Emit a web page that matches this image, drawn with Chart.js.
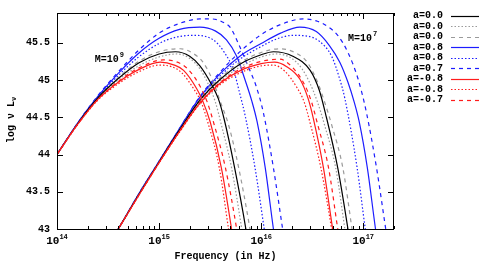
<!DOCTYPE html>
<html>
<head>
<meta charset="utf-8">
<script src="https://cdn.jsdelivr.net/npm/chart.js@4.4.1/dist/chart.umd.min.js"></script>
<style>
  html, body { margin: 0; padding: 0; background: #fff; }
  canvas { display: block; }
</style>
</head>
<body>
<canvas id="grafico" width="491" height="263"></canvas>
<script>
// pontos: [log10 frequencia (Hz), log10 nu L_nu]
const legendLabels = ['a=0.0', 'a=0.0', 'a=0.0', 'a=0.8', 'a=0.8', 'a=0.7', 'a=-0.8', 'a=-0.8', 'a=-0.7'];
const yTicks = [43, 43.5, 44, 44.5, 45, 45.5];
const xDecades = [14, 15, 16, 17];
const xMinor = [2, 3, 4, 5, 6, 7, 8, 9];

// M = 10^9
const m9_a00 = [[14.0,44.00],[14.2,44.41],[14.4,44.76],[14.6,45.02],[14.8,45.23],[15.0,45.35],[15.16,45.38],[15.3,45.32],[15.4,45.19],[15.51,44.95],[15.58,44.75],[15.64,44.46],[15.74,43.82],[15.85,43.00],[15.9,42.55]];
const m9_a00_dot = [[14.0,44.00],[14.2,44.40],[14.4,44.75],[14.6,45.00],[14.8,45.19],[15.0,45.31],[15.18,45.35],[15.3,45.29],[15.4,45.15],[15.48,44.95],[15.55,44.71],[15.61,44.40],[15.71,43.82],[15.81,43.00],[15.86,42.55]];
const m9_a00_dash = [[14.0,44.00],[14.2,44.41],[14.4,44.76],[14.6,45.03],[14.8,45.25],[15.0,45.38],[15.21,45.42],[15.33,45.36],[15.43,45.24],[15.53,44.98],[15.6,44.71],[15.68,44.40],[15.78,43.82],[15.89,43.00],[15.94,42.55]];
const m9_a08 = [[14.0,44.00],[14.2,44.42],[14.4,44.78],[14.6,45.09],[14.8,45.36],[15.0,45.56],[15.2,45.68],[15.4,45.71],[15.55,45.66],[15.66,45.54],[15.76,45.32],[15.84,45.01],[15.91,44.71],[15.96,44.44],[16.04,43.82],[16.12,43.00],[16.17,42.55]];
const m9_a08_dot = [[14.0,44.00],[14.2,44.41],[14.4,44.77],[14.6,45.06],[14.8,45.31],[15.0,45.49],[15.15,45.57],[15.33,45.60],[15.53,45.54],[15.64,45.37],[15.73,45.13],[15.79,44.82],[15.84,44.54],[15.94,43.82],[16.03,43.00],[16.08,42.55]];
const m9_a07_dash = [[14.0,44.00],[14.2,44.42],[14.4,44.79],[14.6,45.11],[14.8,45.40],[15.0,45.63],[15.2,45.76],[15.4,45.82],[15.52,45.82],[15.62,45.78],[15.7,45.70],[15.78,45.48],[15.86,45.22],[15.95,44.92],[16.02,44.57],[16.12,43.82],[16.21,43.00],[16.26,42.55]];
const m9_am08 = [[14.0,44.00],[14.2,44.40],[14.4,44.74],[14.6,44.97],[14.8,45.14],[15.01,45.24],[15.15,45.20],[15.24,45.13],[15.37,44.88],[15.43,44.71],[15.5,44.44],[15.61,43.82],[15.71,43.00],[15.76,42.55]];
const m9_am08_dot = [[14.0,44.00],[14.2,44.40],[14.4,44.73],[14.6,44.95],[14.8,45.11],[15.0,45.20],[15.12,45.18],[15.22,45.10],[15.34,44.88],[15.41,44.71],[15.48,44.42],[15.59,43.82],[15.68,43.00],[15.73,42.55]];
const m9_am07_dash = [[14.0,44.00],[14.2,44.40],[14.4,44.74],[14.6,44.98],[14.8,45.16],[15.04,45.27],[15.18,45.24],[15.28,45.15],[15.4,44.92],[15.47,44.71],[15.54,44.40],[15.65,43.82],[15.76,43.00],[15.81,42.55]];

// M = 10^7
const m7_a00 = [[14.5,42.78],[14.6,43.00],[14.8,43.46],[15.0,43.90],[15.2,44.33],[15.4,44.73],[15.6,45.01],[15.8,45.22],[16.0,45.34],[16.12,45.38],[16.31,45.32],[16.48,45.13],[16.57,44.86],[16.63,44.55],[16.75,43.82],[16.85,43.00],[16.9,42.55]];
const m7_a00_dot = [[14.5,42.78],[14.6,43.00],[14.8,43.46],[15.0,43.90],[15.2,44.32],[15.4,44.72],[15.6,44.99],[15.8,45.18],[16.0,45.31],[16.15,45.35],[16.3,45.29],[16.4,45.15],[16.48,44.95],[16.55,44.71],[16.62,44.40],[16.73,43.82],[16.82,43.00],[16.87,42.55]];
const m7_a00_dash = [[14.5,42.78],[14.6,43.00],[14.8,43.46],[15.0,43.90],[15.2,44.33],[15.4,44.74],[15.6,45.03],[15.8,45.24],[16.0,45.37],[16.18,45.42],[16.33,45.37],[16.45,45.24],[16.55,44.98],[16.62,44.71],[16.69,44.40],[16.8,43.82],[16.89,43.00],[16.94,42.55]];
const m7_a08 = [[14.5,42.78],[14.6,43.00],[14.8,43.47],[15.0,43.91],[15.2,44.35],[15.4,44.77],[15.6,45.09],[15.8,45.33],[16.0,45.49],[16.19,45.63],[16.38,45.71],[16.54,45.65],[16.67,45.46],[16.77,45.24],[16.85,44.97],[16.91,44.71],[16.96,44.44],[17.04,43.82],[17.12,43.00],[17.17,42.55]];
const m7_a08_dot = [[14.5,42.78],[14.6,43.00],[14.8,43.47],[15.0,43.91],[15.2,44.34],[15.4,44.76],[15.6,45.06],[15.8,45.29],[16.0,45.45],[16.15,45.55],[16.31,45.60],[16.45,45.59],[16.57,45.52],[16.69,45.32],[16.77,45.01],[16.82,44.75],[16.94,43.82],[17.02,43.00],[17.07,42.55]];
const m7_a07_dash = [[14.5,42.78],[14.6,43.00],[14.8,43.47],[15.0,43.91],[15.2,44.35],[15.4,44.78],[15.6,45.11],[15.8,45.39],[16.0,45.61],[16.2,45.75],[16.41,45.82],[16.55,45.79],[16.66,45.71],[16.75,45.60],[16.85,45.37],[16.95,45.01],[17.03,44.57],[17.13,43.82],[17.22,43.00],[17.27,42.55]];
const m7_am08 = [[14.5,42.78],[14.6,43.00],[14.8,43.45],[15.0,43.89],[15.2,44.31],[15.4,44.69],[15.6,44.96],[15.8,45.13],[16.0,45.22],[16.13,45.24],[16.25,45.18],[16.38,45.01],[16.46,44.75],[16.51,44.49],[16.61,43.82],[16.7,43.00],[16.75,42.55]];
const m7_am08_dot = [[14.5,42.78],[14.6,43.00],[14.8,43.45],[15.0,43.89],[15.2,44.30],[15.4,44.68],[15.6,44.94],[15.8,45.10],[16.0,45.19],[16.12,45.20],[16.23,45.12],[16.35,44.90],[16.42,44.71],[16.48,44.42],[16.585,43.82],[16.69,43.00],[16.74,42.55]];
const m7_am07_dash = [[14.5,42.78],[14.6,43.00],[14.8,43.45],[15.0,43.89],[15.2,44.31],[15.4,44.70],[15.6,44.97],[15.8,45.15],[16.0,45.25],[16.18,45.28],[16.3,45.18],[16.42,44.95],[16.49,44.72],[16.55,44.42],[16.66,43.82],[16.75,43.00],[16.8,42.55]];

// rotulos das massas: [log nu, log L, expoente]
const massLabels = [[14.37, 45.24, '9'], [16.85, 45.53, '7']];

const grupos = [
  [m9_a00, m9_a00_dot, m9_a00_dash, m9_a08, m9_a08_dot, m9_a07_dash, m9_am08, m9_am08_dot, m9_am07_dash],
  [m7_a00, m7_a00_dot, m7_a00_dash, m7_a08, m7_a08_dot, m7_a07_dash, m7_am08, m7_am08_dot, m7_am07_dash]
];

const PONTO = [1.5, 2];
const TRACO = [4, 4];
const estilos = [
  { cor: '#000000', dash: [], ordem: 1 },
  { cor: '#9a9a9a', dash: PONTO, ordem: 1 },
  { cor: '#9a9a9a', dash: TRACO, ordem: 1 },
  { cor: '#1c1cff', dash: [], ordem: 2 },
  { cor: '#1c1cff', dash: PONTO, ordem: 2 },
  { cor: '#1c1cff', dash: TRACO, ordem: 2 },
  { cor: '#ff1c1c', dash: [], ordem: 0 },
  { cor: '#ff1c1c', dash: PONTO, ordem: 0 },
  { cor: '#ff1c1c', dash: TRACO, ordem: 0 }
];

const datasets = [];
grupos.forEach(curvas => {
  curvas.forEach((pts, i) => {
    datasets.push({
      label: legendLabels[i],
      data: pts.map(p => ({ x: Math.pow(10, p[0]), y: p[1] })),
      borderColor: estilos[i].cor,
      borderDash: estilos[i].dash,
      borderWidth: 1.2,
      pointRadius: 0,
      showLine: true,
      fill: false,
      cubicInterpolationMode: 'monotone',
      order: estilos[i].ordem
    });
  });
});

const FONTE = 'Liberation Mono, DejaVu Sans Mono, monospace';

const decoracao = {
  id: 'decoracao',
  afterDraw(chart) {
    const { ctx, chartArea: a, scales: { x, y } } = chart;
    ctx.save();
    ctx.strokeStyle = '#000';
    ctx.fillStyle = '#000';
    ctx.lineWidth = 1;
    ctx.setLineDash([]);

    // moldura
    ctx.strokeRect(a.left + 0.5, a.top + 0.5, a.right - a.left - 1, a.bottom - a.top);

    // ticks x (para dentro, em cima e embaixo)
    ctx.beginPath();
    xDecades.forEach(d => {
      [1].concat(xMinor).forEach(m => {
        const v = m * Math.pow(10, d);
        if (v > x.max) return;
        const px = Math.round(x.getPixelForValue(v)) + 0.5;
        const len = m === 1 ? 6 : 3;
        ctx.moveTo(px, a.bottom); ctx.lineTo(px, a.bottom - len);
        ctx.moveTo(px, a.top); ctx.lineTo(px, a.top + len);
      });
    });
    // ticks y
    yTicks.forEach(t => {
      const py = Math.round(y.getPixelForValue(t)) + 0.5;
      ctx.moveTo(a.left, py); ctx.lineTo(a.left + 6, py);
      ctx.moveTo(a.right, py); ctx.lineTo(a.right - 6, py);
    });
    ctx.stroke();

    // rotulos x: 10^n
    ctx.textBaseline = 'alphabetic';
    ctx.textAlign = 'left';
    xDecades.forEach(d => {
      const px = x.getPixelForValue(Math.pow(10, d));
      ctx.font = 'bold 11px ' + FONTE;
      const w1 = ctx.measureText('10').width;
      ctx.font = 'bold 7px ' + FONTE;
      const w2 = ctx.measureText(String(d)).width;
      const x0 = px - (w1 + w2) / 2;
      ctx.font = 'bold 11px ' + FONTE;
      ctx.fillText('10', x0, 244);
      ctx.font = 'bold 7px ' + FONTE;
      ctx.fillText(String(d), x0 + w1, 239);
    });

    // titulo x
    ctx.font = 'bold 10px ' + FONTE;
    ctx.textAlign = 'center';
    ctx.fillText('Frequency (in Hz)', (a.left + a.right) / 2, 259);

    // titulo y (girado)
    ctx.save();
    ctx.translate(10, 120);
    ctx.rotate(-Math.PI / 2);
    ctx.font = 'bold 10px ' + FONTE;
    const tPrinc = 'log \u03bd L';
    const wp = ctx.measureText(tPrinc).width;
    ctx.font = 'bold 7px ' + FONTE;
    const ws = ctx.measureText('\u03bd').width;
    const inicio = -(wp + ws) / 2;
    ctx.textAlign = 'left';
    ctx.font = 'bold 10px ' + FONTE;
    ctx.fillText(tPrinc, inicio, 3.5);
    ctx.font = 'bold 7px ' + FONTE;
    ctx.fillText('\u03bd', inicio + wp, 5.5);
    ctx.restore();

    // rotulos das massas
    ctx.textAlign = 'left';
    massLabels.forEach(([lx, ly, e]) => {
      const px = x.getPixelForValue(Math.pow(10, lx));
      const py = y.getPixelForValue(ly);
      ctx.font = 'bold 10px ' + FONTE;
      ctx.fillText('M=10', px, py);
      const w = ctx.measureText('M=10').width;
      ctx.font = 'bold 7px ' + FONTE;
      ctx.fillText(e, px + w + 1, py - 5);
    });

    // legenda
    ctx.font = 'bold 10px ' + FONTE;
    ctx.textAlign = 'right';
    ctx.textBaseline = 'middle';
    legendLabels.forEach((lab, i) => {
      const ly = 15.5 + i * 10.5;
      ctx.fillStyle = '#000';
      ctx.fillText(lab, 443, ly);
      ctx.strokeStyle = estilos[i].cor;
      ctx.lineWidth = 1.2;
      ctx.setLineDash(estilos[i].dash);
      ctx.beginPath();
      ctx.moveTo(451, Math.round(ly) + 0.5);
      ctx.lineTo(479, Math.round(ly) + 0.5);
      ctx.stroke();
    });
    ctx.restore();
  }
};

new Chart(document.getElementById('grafico').getContext('2d'), {
  type: 'scatter',
  data: { datasets: datasets },
  options: {
    responsive: false,
    animation: false,
    events: [],
    layout: { padding: { left: 0, top: 10, right: 97, bottom: 0 } },
    plugins: { legend: { display: false }, tooltip: { enabled: false } },
    scales: {
      x: {
        type: 'logarithmic',
        min: 1e14,
        max: 2e17,
        ticks: { display: false },
        grid: { display: false, drawTicks: false },
        border: { display: false },
        afterFit: s => { s.height = 34; }
      },
      y: {
        type: 'linear',
        min: 43,
        max: 45.9,
        afterBuildTicks: s => { s.ticks = yTicks.map(v => ({ value: v })); },
        ticks: {
          color: '#000',
          padding: 7,
          font: { family: FONTE, weight: 'bold', size: 10 },
          callback: v => String(v)
        },
        grid: { display: false, drawTicks: false },
        border: { display: false },
        afterFit: s => { s.width = 57; }
      }
    }
  },
  plugins: [decoracao]
});
</script>
</body>
</html>
